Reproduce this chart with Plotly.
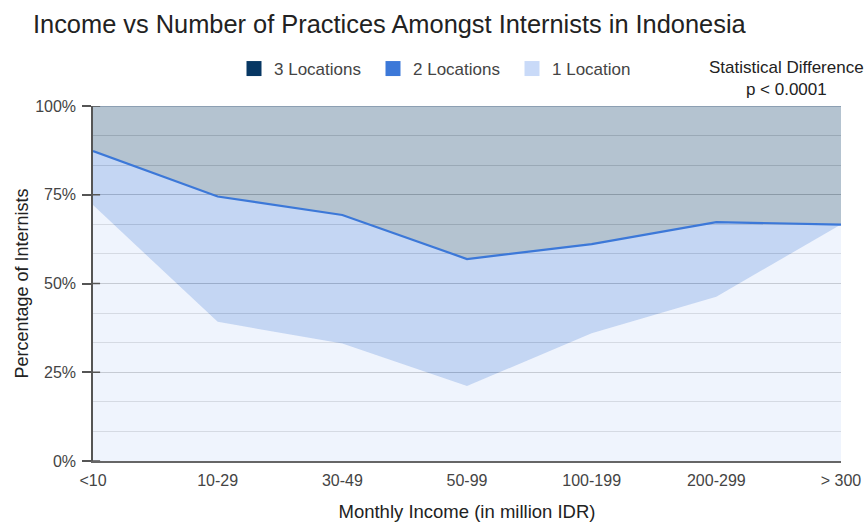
import plotly.graph_objects as go

# Monthly income brackets (million IDR)
income_brackets = ["<10", "10-29", "30-49", "50-99", "100-199", "200-299", "> 300"]

# Share of internists (%) by number of practice locations
one_location = [72.1, 39.2, 33.1, 21.1, 36.0, 46.3, 66.6]
two_locations = [15.2, 35.3, 36.2, 35.8, 25.1, 21.0, 0.0]
three_locations = [12.7, 25.5, 30.7, 43.1, 38.9, 32.7, 33.4]

series_names = ["1 Location", "2 Locations", "3 Locations"]
series_values = [one_location, two_locations, three_locations]
series_colors = ["#c9daf8", "#3c78d8", "#073763"]
fill_colors = ["rgba(201,218,248,0.3)", "rgba(60,120,216,0.3)", "rgba(7,55,99,0.3)"]
line_styles = [dict(width=0, color="rgba(0,0,0,0)"),
               dict(width=2.2, color="#3c78d8"),
               dict(width=1.5, color="#7f93a8")]

y_ticks = [0, 25, 50, 75, 100]
y_tick_labels = ["0%", "25%", "50%", "75%", "100%"]

FONT = "Liberation Sans, Arial, sans-serif"

fig = go.Figure()

for name, vals, fc, ls in zip(series_names, series_values, fill_colors, line_styles):
    fig.add_trace(go.Scatter(
        x=income_brackets, y=vals, name=name, mode="lines",
        stackgroup="share", fillcolor=fc, line=ls, showlegend=False,
        hoverinfo="x+y+name",
    ))

# Square legend swatches (legend order: 3, 2, 1)
for name, col in zip(series_names[::-1], series_colors[::-1]):
    fig.add_trace(go.Scatter(
        x=[None], y=[None], mode="markers", name=name,
        marker=dict(symbol="square", size=15, color=col),
    ))

# Tick marks crossing the y axis (inner half)
for t in y_ticks:
    fig.add_shape(type="line", xref="x domain", yref="y",
                  x0=0, x1=0.0095, y0=t, y1=t,
                  line=dict(color="#555555", width=1.5))

fig.update_layout(
    width=867, height=522,
    margin=dict(l=93, r=26, t=106, b=61, autoexpand=False),
    paper_bgcolor="white", plot_bgcolor="white",
    font=dict(family=FONT, size=16, color="#444444"),
    title=dict(text="Income vs Number of Practices Amongst Internists in Indonesia",
               x=33 / 867, xanchor="left", xref="container",
               y=1 - 24 / 522, yanchor="middle", yref="container",
               font=dict(family=FONT, size=25.4, color="#222222")),
    legend=dict(orientation="h", traceorder="normal",
                x=(234 - 93) / 748, xanchor="left",
                y=(461 - 69) / 355, yanchor="middle",
                font=dict(family=FONT, size=17, color="#444444"),
                entrywidth=94, entrywidthmode="pixels",
                bgcolor="rgba(0,0,0,0)"),
    showlegend=True,
)

fig.update_xaxes(
    type="category", range=[0, len(income_brackets) - 1],
    showgrid=False, showline=True, linecolor="#666666", linewidth=1.5,
    ticks="", ticklabelstandoff=4, automargin=True,
    tickfont=dict(family=FONT, size=16, color="#444444"),
    title=dict(text="Monthly Income (in million IDR)", standoff=18,
               font=dict(family=FONT, size=18.5, color="#222222")),
    zeroline=False,
)

fig.update_yaxes(
    range=[0, 100], tickvals=y_ticks, ticktext=y_tick_labels,
    ticks="outside", ticklen=9, tickcolor="#555555", tickwidth=1.5,
    ticklabelstandoff=3,
    showline=True, linecolor="#555555", linewidth=1.5, automargin=True,
    showgrid=True, gridcolor="#c4c4c4", gridwidth=1,
    minor=dict(dtick=25 / 3, showgrid=True, gridcolor="#dadada", gridwidth=1),
    tickfont=dict(family=FONT, size=16, color="#444444"),
    title=dict(text="Percentage of Internists", standoff=2,
               font=dict(family=FONT, size=18, color="#222222")),
    zeroline=False,
)

fig.add_annotation(
    text="Statistical Difference<br>p < 0.0001",
    xref="paper", yref="paper",
    x=(786 - 93) / 748, y=(461 - 78) / 355,
    xanchor="center", yanchor="middle", align="center",
    showarrow=False,
    font=dict(family=FONT, size=17, color="#222222"),
)

fig.write_html("out.html")
